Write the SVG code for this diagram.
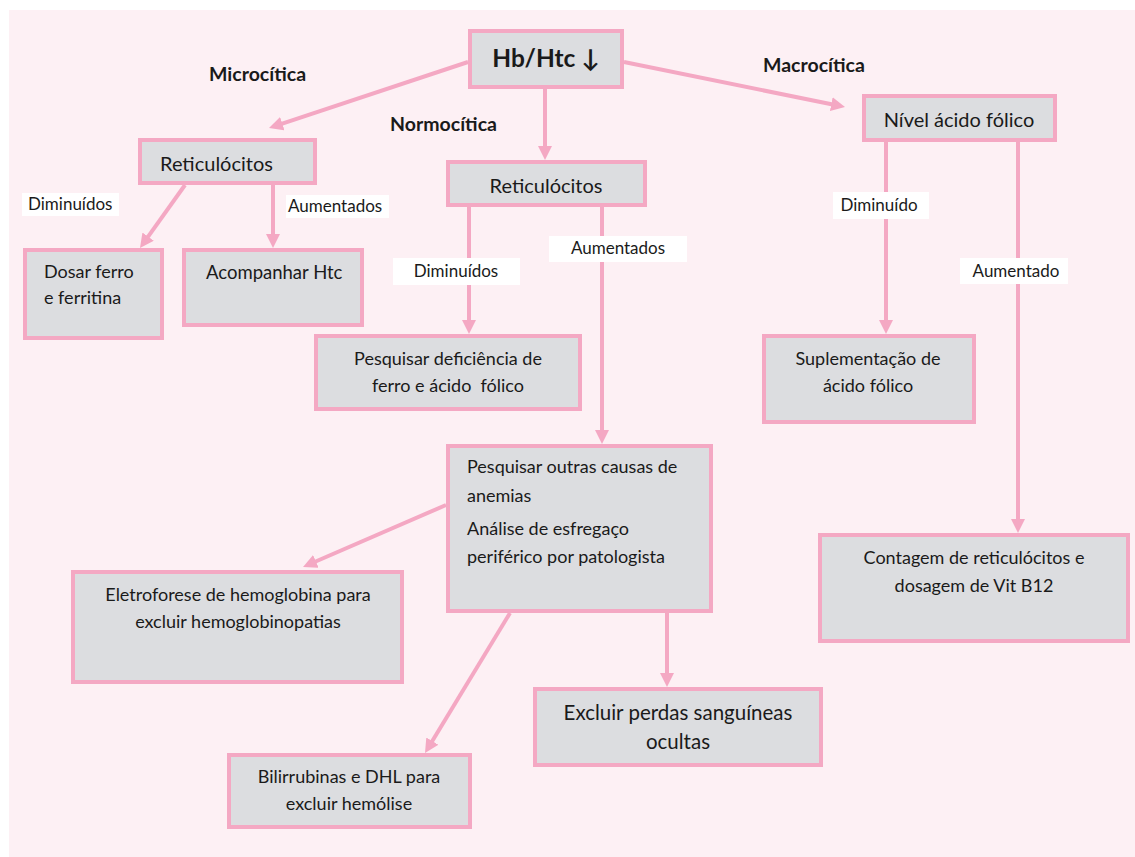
<svg xmlns="http://www.w3.org/2000/svg" width="1135" height="857" viewBox="0 0 1135 857">
<defs>
<marker id="ah" markerUnits="userSpaceOnUse" markerWidth="16" markerHeight="16" refX="4" refY="7" orient="auto">
<path d="M0,0 L14,7 L0,14 z" fill="#f4a8c3"/>
</marker>
<style>
.box{fill:#dcdde0;stroke:#f4a8c3;stroke-width:4}
.c{stroke:#f4a8c3;stroke-width:4;fill:none;marker-end:url(#ah)}
.lb{fill:#ffffff}
text{font-family:Lato,"Open Sans","Liberation Sans",sans-serif;fill:#1a1a1a}
.t{font-size:18px}
.h{font-size:20px}
.tm{text-anchor:middle}
.b{font-weight:bold;font-size:19.5px}
.s{font-size:17px}
</style>
</defs>
<rect x="0" y="0" width="1135" height="857" fill="#ffffff"/>
<rect x="9" y="10" width="1126" height="847" fill="#fdf0f4"/>

<g id="connectors">
<line class="c" x1="468" y1="62" x2="278.5" y2="124.9"/>
<line class="c" x1="545" y1="89" x2="545" y2="150"/>
<line class="c" x1="624" y1="62" x2="835.2" y2="105"/>
<line class="c" x1="185" y1="185" x2="145.8" y2="239.9"/>
<line class="c" x1="273" y1="185" x2="273" y2="238"/>
<line class="c" x1="469" y1="207" x2="469" y2="324"/>
<line class="c" x1="602" y1="207" x2="602" y2="434"/>
<line class="c" x1="886" y1="142" x2="886" y2="324"/>
<line class="c" x1="1018" y1="142" x2="1018" y2="523"/>
<line class="c" x1="446" y1="505" x2="312.2" y2="563"/>
<line class="c" x1="510" y1="613" x2="430.2" y2="744.5"/>
<line class="c" x1="667" y1="613" x2="667" y2="677"/>
</g>

<g id="edge-labels">
<text class="b" x="209" y="81">Microcítica</text>
<text class="b" x="390" y="131">Normocítica</text>
<text class="b" x="763" y="72">Macrocítica</text>
<rect class="lb" x="22" y="193" width="97" height="23"/>
<text class="s" x="28" y="210">Diminuídos</text>
<rect class="lb" x="286" y="195" width="103" height="23"/>
<text class="s" x="288" y="212">Aumentados</text>
<rect class="lb" x="393" y="258" width="127" height="27"/>
<text class="s tm" x="456" y="277">Diminuídos</text>
<rect class="lb" x="549" y="236" width="138" height="26"/>
<text class="s tm" x="618" y="254">Aumentados</text>
<rect class="lb" x="833" y="192" width="96" height="27"/>
<text class="s tm" x="879" y="211">Diminuído</text>
<rect class="lb" x="960" y="258" width="108" height="26"/>
<text class="s tm" x="1016" y="277">Aumentado</text>
</g>

<g id="n-hb">
<rect class="box" x="470" y="31" width="152" height="56"/>
<text x="546" y="67" class="tm" style="font-size:24.5px;font-weight:bold">Hb/Htc ↓</text>
</g>
<g id="n-ret-left">
<rect class="box" x="140" y="140" width="175" height="43"/>
<text class="h" x="160" y="171">Reticulócitos</text>
</g>
<g id="n-ret-mid">
<rect class="box" x="448" y="162" width="197" height="43"/>
<text class="h tm" x="546" y="193">Reticulócitos</text>
</g>
<g id="n-folico">
<rect class="box" x="864" y="96" width="191" height="44"/>
<text class="h tm" x="959" y="127">Nível ácido fólico</text>
</g>
<g id="n-dosar">
<rect class="box" x="25" y="250" width="137" height="88"/>
<text class="t" x="44" y="278">Dosar ferro</text>
<text class="t" x="44" y="304">e ferritina</text>
</g>
<g id="n-acomp">
<rect class="box" x="184" y="250" width="178" height="75"/>
<text x="206" y="279" style="font-size:18.5px">Acompanhar Htc</text>
</g>
<g id="n-pesq-def">
<rect class="box" x="316" y="336" width="264" height="73"/>
<text class="t tm" x="448" y="365">Pesquisar deficiência de</text>
<text class="t tm" x="448" y="392" xml:space="preserve">ferro e ácido  fólico</text>
</g>
<g id="n-suplem">
<rect class="box" x="764" y="336" width="210" height="86"/>
<text class="t tm" x="868" y="365">Suplementação de</text>
<text class="t tm" x="868" y="392">ácido fólico</text>
</g>
<g id="n-pesq-outras">
<rect class="box" x="448" y="446" width="263" height="165"/>
<text class="t" x="467" y="473">Pesquisar outras causas de</text>
<text class="t" x="467" y="502">anemias</text>
<text class="t" x="467" y="535">Análise de esfregaço</text>
<text class="t" x="467" y="563">periférico por patologista</text>
</g>
<g id="n-eletro">
<rect class="box" x="73" y="572" width="329" height="110"/>
<text class="t tm" x="238" y="601">Eletroforese de hemoglobina para</text>
<text class="t tm" x="238" y="628">excluir hemoglobinopatias</text>
</g>
<g id="n-contagem">
<rect class="box" x="820" y="535" width="308" height="106"/>
<text class="t tm" x="974" y="564">Contagem de reticulócitos e</text>
<text class="t tm" x="974" y="592">dosagem de Vit B12</text>
</g>
<g id="n-excluir">
<rect class="box" x="535" y="689" width="286" height="76"/>
<text class="tm" x="678" y="720" style="font-size:20.5px">Excluir perdas sanguíneas</text>
<text class="tm" x="678" y="749" style="font-size:20.5px">ocultas</text>
</g>
<g id="n-bili">
<rect class="box" x="229" y="755" width="241" height="72"/>
<text class="t tm" x="349" y="783">Bilirrubinas e DHL para</text>
<text class="t tm" x="349" y="810">excluir hemólise</text>
</g>
</svg>
